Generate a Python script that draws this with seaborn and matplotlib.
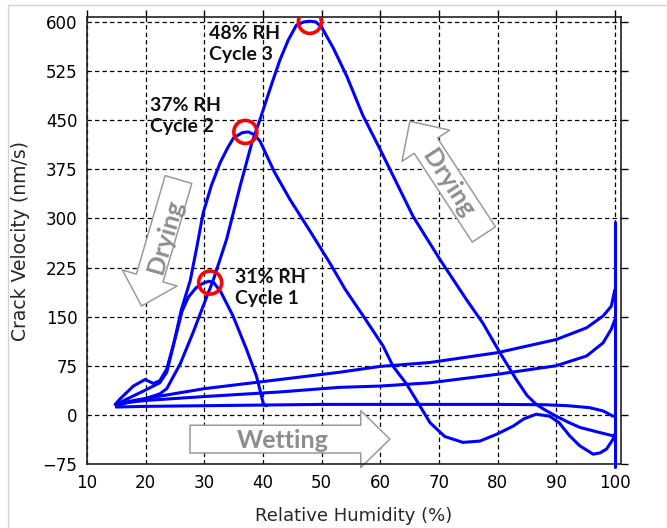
import matplotlib
matplotlib.use("Agg")
import matplotlib.pyplot as plt
from matplotlib.lines import Line2D
import seaborn as sns

# ---- data -------------------------------------------------------------
# Drying branches (relative humidity falling), one per cycle
cycle1_rh = [40.6, 40.1, 38.9, 37.2, 34.9, 32.8, 31.6, 30.8, 29.8, 28.6, 27.3,
             26.2, 25.3, 23.6, 22.4, 21.3, 19.9, 17.9, 15.6, 14.8]
cycle1_vel = [14, 16, 59, 100, 151, 188, 202, 204, 201, 194, 180,
              158, 126, 70, 52, 48, 54, 44, 24, 16]

cycle2_rh = [100, 99.7, 98.6, 97.5, 96.3, 94, 92.3, 90.5, 88.9, 86.6, 84.5, 82.7,
             80, 77, 74.1, 71, 68.5, 66.4, 64.5, 62.2, 60.5, 57.1, 54, 51.4,
             48, 44.6, 42, 39.5, 38.5, 37.5, 36.5, 35, 34, 32.7, 31.2, 29.8,
             28.7, 27.6, 26.1, 24.7, 23.6, 22.4, 20, 17, 15]
cycle2_vel = [-30, -37, -52, -58, -60, -47, -32, -12, -2, 1, -6, -17,
              -29, -40, -42, -33, -12, 19, 47, 74, 105, 151, 192, 232,
              281, 329, 370, 418, 428, 432, 431, 423, 408, 385, 350, 308,
              255, 205, 161, 105, 65, 49, 38, 25, 16]

cycle3_rh = [100, 99.7, 97, 94, 92, 90, 88, 86.6, 85, 83.2, 80.4, 77.5, 74.7,
             70.2, 65.6, 60, 57, 54.3, 52, 50, 49, 48, 47, 45.7, 44.3, 42.9,
             41.6, 40.6, 39.5, 38.1, 36.1, 33.8, 31.5, 30.4, 28.1, 25.9, 23.6,
             22.4, 20, 17, 15]
cycle3_vel = [-30, -32, -26, -19, -11, -2, 8, 16, 30, 54, 95, 140, 176,
              237, 303, 405, 458, 517, 560, 592, 600, 601, 600, 595, 572, 542,
              508, 481, 451, 415, 349, 268, 205, 180, 126, 78, 40,
              32, 25, 19, 14]

# Wetting branches (relative humidity rising)
wet1_rh = [15, 20, 30, 40, 50, 60, 70, 80, 88, 92, 95.7, 98, 99.7]
wet1_vel = [12, 13, 14, 15, 16, 16, 16, 16, 15.5, 14, 11, 6, -2]

wet2_rh = [15, 20, 30, 42.9, 53, 60, 68.5, 80, 90, 95.2, 98, 99.4, 100]
wet2_vel = [17, 22, 28, 35, 42, 44, 49, 62, 75, 90, 110, 131, 145]

wet3_rh = [16, 18, 22, 30, 42.9, 53, 60, 68.5, 80, 90, 95.2, 98, 99.4, 100]
wet3_vel = [18, 22, 28, 40, 54, 65, 74, 80, 95, 115, 133, 151, 166, 191]

# Hold at saturation
hold_rh = [100, 100]
hold_vel = [294, -80]

# Peak crack velocities
peak_rh = [31, 37, 48]
peak_vel = [202, 432, 600]
peak_labels = ["31% RH\nCycle 1", "37% RH\nCycle 2", "48% RH\nCycle 3"]

x_ticks = list(range(10, 101, 10))
y_ticks = list(range(-75, 601, 75))

# ---- figure -----------------------------------------------------------
sns.set_style("white")
plt.rcParams["font.family"] = ["DejaVu Sans"]

fig = plt.figure(figsize=(6.67, 5.28), dpi=100)
ax = fig.add_axes([87 / 667, 1 - 464 / 528, (620.7 - 87) / 667, (464 - 17.3) / 528])

blue = "#0000ff"
for rh, vel in [(cycle1_rh, cycle1_vel), (cycle2_rh, cycle2_vel),
                (cycle3_rh, cycle3_vel), (wet1_rh, wet1_vel),
                (wet2_rh, wet2_vel), (wet3_rh, wet3_vel)]:
    sns.lineplot(x=rh, y=vel, sort=False, estimator=None, color=blue,
                 lw=2.2, ax=ax, zorder=3)

# the saturation hold runs past the bottom of the frame
hold = sns.lineplot(x=hold_rh, y=hold_vel, sort=False, estimator=None,
                    color=blue, lw=2.2, ax=ax, zorder=3).lines[-1]
hold.set_clip_on(False)

ax.scatter(peak_rh, peak_vel, s=275, facecolors="none", edgecolors="#ff0000",
           linewidths=2.6, zorder=4)

label_offsets = [(4.2, 21), (-16.3, 53), (-17.2, -5)]
for px, py, txt, (dx, dy) in zip(peak_rh, peak_vel, peak_labels, label_offsets):
    ax.text(px + dx, py + dy, txt, ha="left", va="top", fontsize=14,
            fontweight="bold", family=["Lato", "DejaVu Sans"], color="#111111",
            linespacing=1.3, zorder=5)

# Direction arrows
arrow_grey = "#9a9a9a"
text_grey = "#8e8e8e"
arrow_style = "simple,head_length=1.05,head_width=2.05,tail_width=1.0"
arrows = [((19.3, 166.2), (25.6, 359.3)),
          ((65.05, 448.2), (77.67, 275.5)),
          ((61.65, -37), (27.56, -37))]
for tip, tail in arrows:
    ax.annotate("", xy=tip, xytext=tail,
                arrowprops=dict(arrowstyle=arrow_style, mutation_scale=20,
                                fc="white", ec=arrow_grey, lw=1.1,
                                shrinkA=0, shrinkB=0),
                zorder=2.5)

arrow_text = dict(ha="center", va="center", fontsize=18, fontweight="bold",
                  family=["Lato", "DejaVu Sans"], color=text_grey,
                  rotation_mode="anchor", zorder=2.6)
ax.text(23.3, 273, "Drying", rotation=74, **arrow_text)
ax.text(71.6, 354, "Drying", rotation=-57, **arrow_text)
ax.text(43.3, -39, "Wetting", rotation=0, **arrow_text)

# ---- axes styling -----------------------------------------------------
ax.set_xlim(10, 101)
ax.set_ylim(-75, 607)
ax.set_xticks(x_ticks)
ax.set_yticks(y_ticks)
ax.grid(True, color="black", linestyle=(0, (3.5, 2.5)), lw=0.9)
ax.set_axisbelow(True)
ax.tick_params(direction="out", top=True, right=True, length=5, width=1,
               labelsize=12, pad=2, colors="black")
for s in ax.spines.values():
    s.set_linewidth(1.2)
    s.set_color("#222222")
    s.set_visible(True)

ax.set_xlabel("Relative Humidity (%)", fontsize=13, va="center")
ax.set_ylabel("Crack Velocity (nm/s)", fontsize=13.5, va="center")
ax.xaxis.set_label_coords(0.5, -0.117)
ax.yaxis.set_label_coords(-0.1255, 0.5)

# Thin frame along the top and left edges
fig.add_artist(Line2D([8 / 667, 8 / 667], [0, 1 - 5 / 528], color="#d4d4d4",
                      lw=1, transform=fig.transFigure))
fig.add_artist(Line2D([8 / 667, 1], [1 - 5 / 528, 1 - 5 / 528], color="#d4d4d4",
                      lw=1, transform=fig.transFigure))

fig.savefig("out.png", dpi=100)
